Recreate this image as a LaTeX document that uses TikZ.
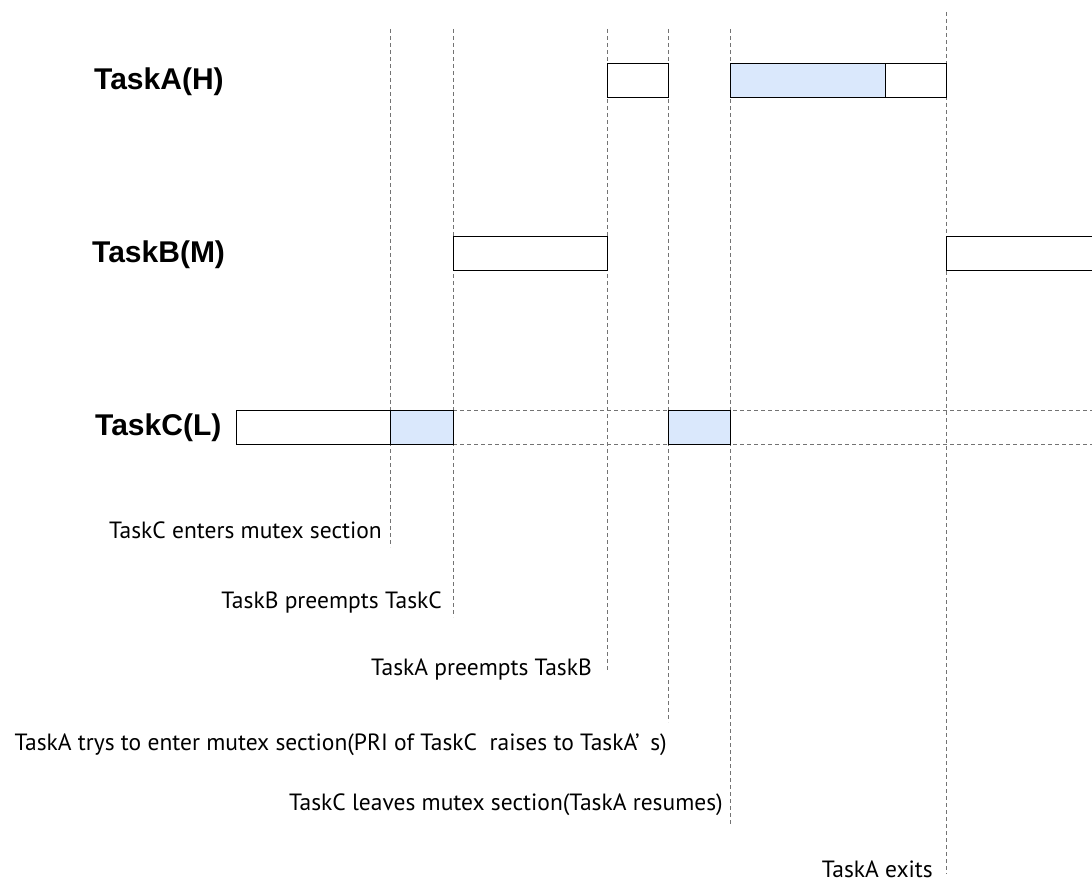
\documentclass[tikz,border=0pt]{standalone}
\usepackage{fontspec}
\setmainfont{PT Sans}
\newfontfamily\labelfont{Liberation Sans}
\usepackage{tikz}
\usetikzlibrary{positioning}
\definecolor{critblue}{RGB}{218,232,252}

\begin{document}
\begin{tikzpicture}[x=1pt,y=-1pt,
    run/.style={draw=black,fill=white,line width=1pt},
    crit/.style={draw=black,fill=critblue,line width=1pt},
    guide/.style={draw=black!55,line width=0.8pt,dash pattern=on 4pt off 3pt},
    taskname/.style={font=\labelfont\bfseries\fontsize{30}{34}\selectfont,inner sep=0pt,anchor=base west},
    event/.style={font=\fontsize{23.5}{27}\selectfont,inner sep=0pt,anchor=base east}]
  \useasboundingbox (0,0) rectangle (1092,882);
  \clip (0,0) rectangle (1092,882);

  % guide lines
  \foreach \x/\ya/\yb in {390/29/547, 453/29/617, 607/29/670, 668/29/722, 730/29/825, 946/12/874}
    \draw[guide] (\x,\ya) -- (\x,\yb);

  % task names
  \node[taskname] (taskA) at (94,90) {TaskA(H)};
  \node[taskname] (taskB) at (92,263) {TaskB(M)};
  \node[taskname] (taskC) at (95,435) {TaskC(L)};

  % TaskA
  \draw[run] (607,64) rectangle (668,98);
  \draw[crit] (730,64) rectangle (885,98);
  \draw[run] (885,64) rectangle (946,98);
  % TaskB
  \draw[run] (453,237) rectangle (607,271);
  \draw[run] (946,237) rectangle (1100,271);
  % TaskC
  \draw[guide] (453,410) -- (1092,410) (453,444) -- (1092,444);
  \draw[run] (236,410) rectangle (390,444);
  \draw[crit] (390,410) rectangle (453,444);
  \draw[crit] (668,410) rectangle (730,444);

  % events
  \node[event] (enter) at (382,538) {TaskC enters mutex section};
  \node[event] (preC) at (442,608) {TaskB preempts TaskC};
  \node[event] (preB) at (592,675) {TaskA preempts TaskB};
  \node[event] (tryA) at (667,750) {TaskA trys to enter mutex section(PRI of TaskC\ \ raises to TaskA’\hspace{0.45em}s)};
  \node[event] (leave) at (723,810) {TaskC leaves mutex section(TaskA resumes)};
  \node[event] (exitA) at (933,877) {TaskA exits};
\end{tikzpicture}
\end{document}
